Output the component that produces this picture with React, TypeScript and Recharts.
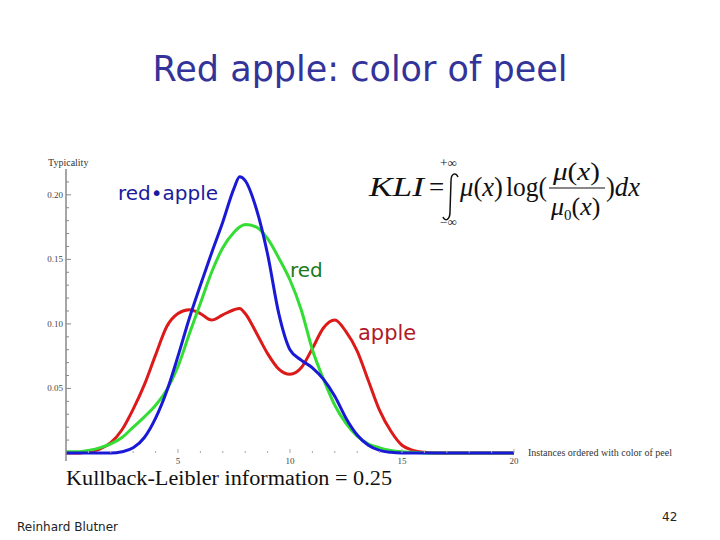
import { LineChart, Line, XAxis, YAxis } from "recharts";

// instances ordered with colour of peel
const xs = [0, 0.5, 1, 1.5, 2, 2.5, 3, 3.5, 4, 4.5, 5, 5.5, 6, 6.5, 7, 7.5, 7.75, 8, 8.5, 9, 9.5, 10, 10.5, 11, 11.5, 12, 12.5, 13, 13.5, 14, 14.5, 15, 15.5, 16, 16.5, 17, 17.5, 18, 18.5, 19, 19.5, 20];

const apple = [0, 0, 0.001, 0.003, 0.008, 0.018, 0.034, 0.053, 0.076, 0.098, 0.108, 0.111, 0.108, 0.103, 0.107, 0.111, 0.112, 0.108, 0.093, 0.077, 0.065, 0.061, 0.066, 0.081, 0.097, 0.103, 0.094, 0.079, 0.056, 0.033, 0.017, 0.006, 0.002, 0.0005, 0, 0, 0, 0, 0, 0, 0, 0];
const red = [0.001, 0.001, 0.002, 0.004, 0.007, 0.012, 0.02, 0.028, 0.037, 0.049, 0.067, 0.092, 0.116, 0.14, 0.159, 0.171, 0.175, 0.177, 0.175, 0.166, 0.151, 0.134, 0.111, 0.08, 0.057, 0.037, 0.023, 0.013, 0.007, 0.004, 0.002, 0.001, 0.0005, 0, 0, 0, 0, 0, 0, 0, 0, 0];
const redApple = [0, 0, 0, 0, 0, 0.001, 0.004, 0.012, 0.027, 0.048, 0.075, 0.104, 0.13, 0.155, 0.179, 0.205, 0.214, 0.211, 0.189, 0.154, 0.108, 0.08, 0.072, 0.066, 0.057, 0.044, 0.027, 0.014, 0.006, 0.002, 0.0005, 0, 0, 0, 0, 0, 0, 0, 0, 0, 0, 0];

const yTicks = [0.01, 0.02, 0.03, 0.04, 0.05, 0.06, 0.07, 0.08, 0.09, 0.1, 0.11, 0.12, 0.13, 0.14, 0.15, 0.16, 0.17, 0.18, 0.19, 0.2, 0.21];
const yLabels = [0.05, 0.1, 0.15, 0.2];
const xTicks = [1, 2, 3, 4, 5, 6, 7, 8, 9, 10, 11, 12, 13, 14, 15, 16, 17, 18, 19, 20];
const xLabels = [5, 10, 15, 20];

const data = xs.map((x, i) => ({ x, apple: apple[i], red: red[i], redApple: redApple[i] }));

const serif = "'Liberation Serif', 'Times New Roman', serif";
const sans = "'DejaVu Sans', Verdana, sans-serif";

function YTick({ x, y, payload }: any) {
  const v = payload.value;
  const major = yLabels.some((l) => Math.abs(l - v) < 1e-6);
  return (
    <g>
      <line x1={x} x2={x + (major ? 5 : 3)} y1={y} y2={y} stroke="#888" />
      {major && (
        <text x={x - 3} y={y + 3} textAnchor="end" fontSize={9} fontFamily={serif} fill="#444">
          {v.toFixed(2)}
        </text>
      )}
    </g>
  );
}

function XTick({ x, y, payload }: any) {
  const v = payload.value;
  const major = xLabels.includes(v);
  return (
    <g>
      <line x1={x} x2={x} y1={y - 8} y2={y - 8 - (major ? 4 : 2)} stroke="#aaa" />
      {major && (
        <text x={x} y={y + 3} textAnchor="middle" fontSize={9} fontFamily={serif} fill="#444">
          {v}
        </text>
      )}
    </g>
  );
}

export default function App() {
  return (
    <div style={{ position: "absolute", left: 0, top: 0, width: 720, height: 540, background: "#fff" }}>
      <LineChart
        width={720}
        height={540}
        data={data}
        margin={{ top: 169, right: 206, left: 46, bottom: 59 }}
      >
        <XAxis
          type="number"
          dataKey="x"
          domain={[0, 20]}
          ticks={xTicks}
          interval={0}
          axisLine={false}
          tickLine={false}
          tickSize={0}
          tickMargin={0}
          height={20}
          tick={(p: any) => <XTick {...p} />}
        />
        <YAxis
          type="number"
          domain={[-0.0062, 0.22]}
          ticks={yTicks}
          interval={0}
          axisLine={{ stroke: "#888", strokeWidth: 1.5 }}
          tickLine={false}
          tickSize={0}
          tickMargin={0}
          width={20}
          tick={(p: any) => <YTick {...p} />}
        />
        <Line type="monotone" dataKey="apple" stroke="#dd1a1a" strokeWidth={3} dot={false} isAnimationActive={false} />
        <Line type="monotone" dataKey="red" stroke="#33dd33" strokeWidth={3} dot={false} isAnimationActive={false} />
        <Line type="monotone" dataKey="redApple" stroke="#1a1ad6" strokeWidth={3} dot={false} isAnimationActive={false} />
      </LineChart>

      <svg width={720} height={540} style={{ position: "absolute", left: 0, top: 0, pointerEvents: "none" }}>
        <text x={360} y={81} textAnchor="middle" fontSize={35} fontFamily={sans} fill="#333399">
          Red apple: color of peel
        </text>

        <text x={48} y={166} fontSize={10} fontFamily={serif} fill="#333">Typicality</text>
        <text x={528} y={456} fontSize={9.5} fontFamily={serif} fill="#333" textLength={144} lengthAdjust="spacingAndGlyphs">
          Instances ordered with color of peel
        </text>

        <text x={118} y={200} fontSize={20} fontFamily={sans} fill="#1a1a9c">red•apple</text>
        <text x={290} y={277} fontSize={20} fontFamily={sans} fill="#1a7a1a">red</text>
        <text x={358} y={340} fontSize={21} fontFamily={sans} fill="#b01a2a">apple</text>

        {/* KLI formula */}
        <g fontFamily={serif} fill="#111">
          <text x={369} y={196} fontSize={27} fontStyle="italic" textLength={55} lengthAdjust="spacingAndGlyphs">KLI</text>
          <text x={429} y={196} fontSize={27}>=</text>
          <path d="M 458 177 C 456 172, 451 173, 451 181 L 450 212 C 450 220, 445 222, 443 217" fill="none" stroke="#111" strokeWidth={1.5} />
          <text x={440} y={167} fontSize={12} textLength={17} lengthAdjust="spacingAndGlyphs">+∞</text>
          <text x={440} y={226} fontSize={12} textLength={17} lengthAdjust="spacingAndGlyphs">−∞</text>
          <text x={460} y={196} fontSize={27} textLength={43} lengthAdjust="spacingAndGlyphs">
            <tspan fontStyle="italic">μ</tspan>(<tspan fontStyle="italic">x</tspan>)
          </text>
          <text x={506} y={196} fontSize={27} textLength={41} lengthAdjust="spacingAndGlyphs">log(</text>
          <text x={553} y={180} fontSize={26} textLength={47} lengthAdjust="spacingAndGlyphs">
            <tspan fontStyle="italic">μ</tspan>(<tspan fontStyle="italic">x</tspan>)
          </text>
          <line x1={549} x2={605} y1={188} y2={188} stroke="#111" strokeWidth={1.2} />
          <text x={551} y={215} fontSize={26}>
            <tspan fontStyle="italic">μ</tspan>
            <tspan fontSize={15} dy={5}>0</tspan>
            <tspan dy={-5}>(</tspan>
            <tspan fontStyle="italic">x</tspan>)
          </text>
          <text x={606} y={196} fontSize={27} textLength={34} lengthAdjust="spacingAndGlyphs">
            )<tspan fontStyle="italic">dx</tspan>
          </text>
        </g>

        <text x={66} y={485} fontSize={20} fontFamily={serif} fill="#111" textLength={326} lengthAdjust="spacingAndGlyphs">
          Kullback-Leibler information =  0.25
        </text>
        <text x={17} y={531} fontSize={12} fontFamily={sans} fill="#222">Reinhard Blutner</text>
        <text x={662} y={521} fontSize={12} fontFamily={sans} fill="#222">42</text>
      </svg>
    </div>
  );
}
